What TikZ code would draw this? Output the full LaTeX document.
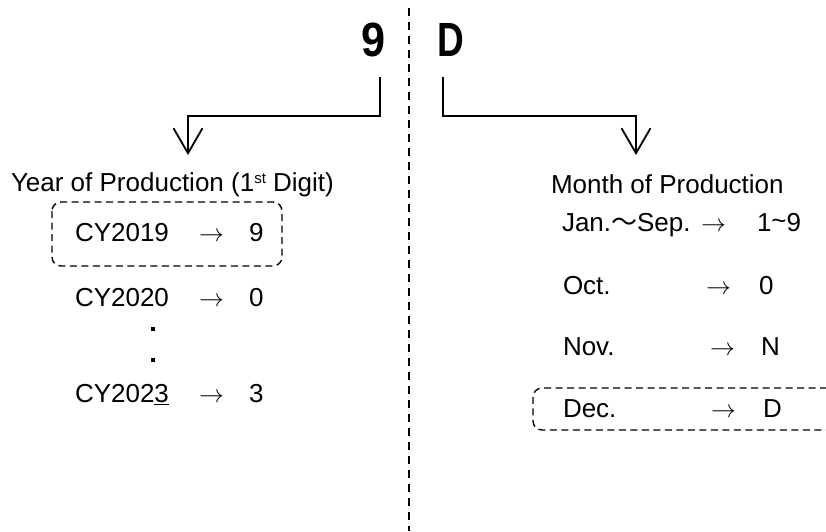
\documentclass[tikz,border=0pt]{standalone}
\usepackage{fontspec}
\setmainfont{Liberation Sans}
\newfontfamily\cjkfont{Noto Sans CJK JP}
\usetikzlibrary{arrows.meta}

% small raised ordinal suffix
\newcommand{\ordsuffix}[1]{\raisebox{8pt}{\fontsize{15}{15}\selectfont #1}}

\tikzset{
  lbl/.style={anchor=base west, inner sep=0pt, outer sep=0pt,
              font=\fontsize{26}{30}\selectfont},
  bigchar/.style={anchor=base, inner sep=0pt, outer sep=0pt,
              font=\fontsize{48}{56}\selectfont\bfseries},
  conn/.style={line width=1.8pt, line join=miter,
              -{Straight Barb[length=25pt,width=29pt,line width=1.8pt]}},
  divider/.style={line width=1.8pt, dash pattern=on 8pt off 6pt},
  selbox/.style={line width=1.4pt, dash pattern=on 7pt off 4.5pt,
              rounded corners=9pt},
  dotmark/.style={fill=black}
}

\begin{document}
\begin{tikzpicture}[x=1pt,y=-1pt]
  \useasboundingbox (0,0) rectangle (826,531);

  % centre divider
  \draw[divider] (409,8) -- (409,531);

  % the two code characters
  \node[bigchar, xscale=0.9] (d9) at (374,56.5) {9};
  \node[bigchar, xscale=0.77] (dD) at (450.5,56.5) {D};

  % connector start / end points
  \coordinate (c9) at (380,77);
  \coordinate (cD) at (443,77);
  \coordinate (tipY) at (188,155);
  \coordinate (tipM) at (636,155);

  \draw[conn] (c9) -- (380,116) -| (tipY);
  \draw[conn] (cD) -- (443,116) -| (tipM);

  % ---- year column ----
  \node[lbl] (yearlbl) at (11,191.7) {Year of Production (1\ordsuffix{st} Digit)};

  \draw[selbox] (52,202) rectangle (282,266);

  \node[lbl] (y19) at (75,241.7) {CY2019};
  \node[lbl] (y19a) at (199,241.7) {$\rightarrow$};
  \node[lbl] (y19v) at (249,241.7) {9};

  \node[lbl] (y20) at (75,306.7) {CY2020};
  \node[lbl] (y20a) at (199,306.7) {$\rightarrow$};
  \node[lbl] (y20v) at (249,306.7) {0};

  \fill[dotmark] (151.3,327.3) rectangle (155,331);
  \fill[dotmark] (151.3,358.3) rectangle (155,362);

  \node[lbl] (y23) at (75,402.7) {CY202\underline{3}};
  \node[lbl] (y23a) at (199,402.7) {$\rightarrow$};
  \node[lbl] (y23v) at (249,402.7) {3};

  % ---- month column ----
  \node[lbl] (monthlbl) at (551,193.3) {Month of Production};

  \node[lbl] (mJS) at (562,231) {Jan.{\cjkfont ～}Sep.};
  \node[lbl] (mJSa) at (701,231) {$\rightarrow$};
  \node[lbl] (mJSv) at (757,231) {1\raisebox{0.1ex}{\char"7E}9};

  \node[lbl] (mO) at (563,294) {Oct.};
  \node[lbl] (mOa) at (706,294) {$\rightarrow$};
  \node[lbl] (mOv) at (759,294) {0};

  \node[lbl] (mN) at (563,355) {Nov.};
  \node[lbl] (mNa) at (710,355) {$\rightarrow$};
  \node[lbl] (mNv) at (761,355) {N};

  \draw[selbox] (850,388) -- (533,388) -- (533,430) -- (850,430);
  \node[lbl] (mD) at (563,417) {Dec.};
  \node[lbl] (mDa) at (711,417) {$\rightarrow$};
  \node[lbl] (mDv) at (763,417) {D};
\end{tikzpicture}
\end{document}
